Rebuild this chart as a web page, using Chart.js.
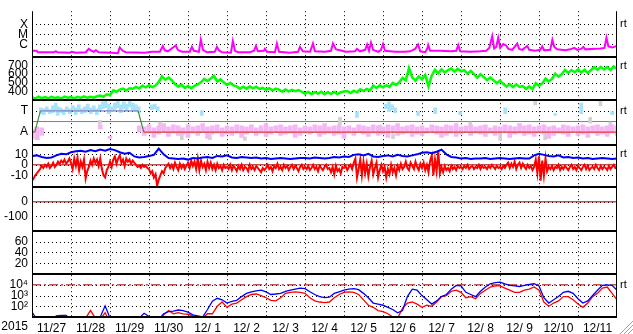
<!DOCTYPE html>
<html>
<head>
<meta charset="utf-8">
<script src="https://cdn.jsdelivr.net/npm/chart.js@4.4.1/dist/chart.umd.min.js"></script>
<style>
html, body { margin: 0; padding: 0; background: #fff; }
#wrap { width: 633px; height: 334px; }
</style>
</head>
<body>
<div id="wrap"><canvas id="swChart" width="633" height="334"></canvas></div>
<script>
// time axis is days since 2015-11-27 00:00 UT
const yearLabel = '2015';
const dayLabels = ['11/27', '11/28', '11/29', '11/30', '12/ 1', '12/ 2', '12/ 3', '12/ 4',
  '12/ 5', '12/ 6', '12/ 7', '12/ 8', '12/ 9', '12/10', '12/11'];

// X-ray flux: hour, flux in units of 1e-7 W/m2
const xrayHour = [0.4, 2.9, 3.5, 13.4, 14.6, 15.8, 23.2, 24.5, 26.9, 33.1, 34.9, 36.2, 38.0, 39.3, 41.1,
  49.1, 52.8, 54.0, 55.8, 57.7, 69.4, 73.7, 78.7, 80.5, 81.7, 83.6, 88.5, 89.7, 92.2, 97.1, 98.4, 99.6,
  102.7, 103.9, 105.2, 107.6, 112.5, 113.8, 115.0, 116.9, 122.4, 123.6, 124.9, 126.7, 134.1, 136.6,
  137.8, 139.0, 142.7, 143.3, 144.6, 149.5, 150.7, 152.0, 158.7, 163.7, 164.9, 166.7, 171.1, 172.9,
  174.1, 180.3, 184.0, 185.2, 187.1, 189.5, 193.2, 198.8, 200.0, 201.9, 205.0, 206.2, 207.4, 208.6,
  209.9, 213.0, 214.8, 216.0, 217.3, 223.4, 229.6, 232.7, 235.8, 237.6, 238.9, 242.0, 243.2, 243.8,
  245.0, 251.2, 257.4, 261.1, 262.3, 263.5, 269.7, 275.8, 279.5, 281.4, 283.2, 284.4, 285.7, 286.9,
  288.1, 290.0, 291.8, 293.1, 295.5, 298.6, 299.8, 301.7, 304.7, 306.0, 309.7, 312.8, 314.0, 315.2,
  318.9, 320.2, 321.4, 323.2, 328.2, 331.2, 333.7, 335.6, 338.0, 339.3, 340.5, 346.7, 349.8, 352.3,
  353.5, 354.7, 357.1, 360];
const xrayFlux = [2.24, 2.24, 1.6, 1.6, 2.0, 1.6, 1.43, 1.79, 1.43, 1.6, 3.5, 2.5, 1.79, 2.5, 1.6,
  1.43, 1.28, 4.89, 2.24, 1.6, 1.43, 1.79, 1.79, 6.84, 2.5, 2.0, 7.65, 2.8, 1.79, 1.79, 5.47, 2.24,
  1.79, 29.2, 2.8, 1.6, 1.79, 5.47, 2.5, 1.6, 1.43, 21, 2.24, 1.6, 1.6, 2.24,
  6.84, 2.0, 2.24, 3.5, 1.79, 1.6, 12, 1.79, 1.43, 1.79, 5.47, 2.0, 1.79, 12,
  2.0, 1.79, 2.24, 12, 3.13, 2.5, 1.79, 2.0, 3.5, 2.0, 2.8, 9.56, 2.24, 15,
  2.8, 1.79, 2.8, 10.7, 2.24, 1.79, 1.79, 2.0, 3.5, 9.56, 2.0, 1.6, 3.5, 8.55,
  2.24, 2.24, 2.0, 2.24, 8.55, 2.0, 1.79, 2.0, 2.24, 4.37, 64, 3.9, 5.47, 45.7,
  4.37, 10.7, 7.65, 3.5, 2.8, 12, 3.5, 2.8, 6.84, 2.8, 2.24, 2.8, 6.1, 2.5,
  2.8, 29.2, 5.47, 3.13, 2.5, 3.13, 4.37, 2.8, 3.5, 5.47, 3.13, 3.5, 3.9, 4.37,
  45.7, 6.1, 4.89, 6.84];

// solar wind speed (km/s), one value every 2 hours
const speedStep = 2;
const speed = [330, 318, 338, 322, 334, 320, 336, 324, 332, 318, 340, 326, 334, 320, 338, 324, 342, 326, 338, 328, 344,
  352, 338, 366, 356, 412, 396, 420, 432, 410, 436, 430, 452, 436, 466, 448, 472, 450, 468, 510,
  575, 535, 560, 530, 485, 455, 478, 440, 462, 438, 465, 480, 505, 545, 520, 550, 580, 515, 540,
  505, 475, 500, 470, 458, 430, 455, 432, 458, 436, 454, 428, 440, 418, 438, 412, 432,
  420, 398, 422, 400, 418, 402, 414, 396, 372, 394, 370, 392, 374, 396, 368, 392, 372, 394, 370, 390, 398,
  405, 382, 408, 390, 425, 405, 430, 412, 468, 440, 470, 448, 472, 452, 498, 475, 505, 555, 530, 670,
  560, 525, 575, 540, 590, 460, 585, 650, 610, 655, 620, 648, 665, 630, 662, 635, 645, 605, 638,
  600, 560, 598, 565, 530, 560, 530, 495, 525, 488, 455, 485, 450, 482, 452, 462, 430, 458, 428,
  495, 465, 492, 548, 515, 545, 605, 570, 600, 650, 615, 648, 622, 655, 618, 650, 612, 648,
  680, 650, 685, 655, 682, 648, 688, 660];

// IMF sector: 1 = toward (T), -1 = away (A)
const sectorHour = [0, 1.7, 5.2, 65.3, 68.8, 360];
const sector = [-1, -1, 1, 1, -1, -1];
const sectorMid = 0;

// hourly IMF direction streaks (toward side), hour / low / high
const towardHour = [5.4, 7.2, 9.1, 10.9, 12.8, 14.6, 15.8, 17.7, 19.5, 21.4, 23.2, 25.1, 26.9, 28.8, 30.6,
  32.5, 34.3, 36.2, 38.0, 39.9, 41.7, 43.6, 45.4, 47.2, 49.1, 50.9, 52.8, 54.6, 56.5, 58.3, 60.2, 62.0,
  63.9, 65.7, 73.7, 75.6, 77.4, 104.5, 200.0, 217.9, 219.7, 221.6, 223.4, 237.6, 248.1, 263.5, 291.2,
  322.0, 338.0, 357.1];
const towardLo = [0.75, 0.66, 0.94, 0.75, 0.85, 1.03, 0.57, 0.85, 0.66, 0.94, 0.75, 1.03, 0.66, 0.94, 0.75,
  0.85, 1.03, 0.75, 0.94, 0.66, 1.03, 1.21, 1.3, 0.75, 0.94, 1.12, 1.3, 0.85, 1.21, 1.03, 1.39, 1.12,
  0.94, 0.85, 1.12, 1.21, 1.03, 0.57, 0.39, 1.21, 0.94, 1.12, 0.85, 0.57, 0.75, 0.66, 0.75,
  0.57, 0.75, 0.66];
const towardHi = [1.3, 1.21, 1.39, 1.12, 1.48, 1.75, 1.39, 1.3, 1.12, 1.39, 1.21, 1.48, 1.3, 1.57, 1.21,
  1.39, 1.66, 1.3, 1.48, 1.21, 1.57, 1.85, 1.94, 1.66, 1.39, 1.75, 1.94, 1.57, 1.85, 1.66, 1.94, 1.75,
  1.57, 1.39, 1.57, 1.66, 1.39, 1.03, 0.94, 1.66, 1.85, 1.57, 1.3, 0.94, 1.3, 0.94, 1.3,
  0.75, 1.75, 0.94];

// away side streaks every 3 hours (null = none)
const awayStep = 3;
const awayLo = [-1.6, -1.7, -1.3, null, null, null, null, null, null, null, null, null, null, null,
  -0.7, null, -1.6, null, null, null, null, null,
  -1.0, -1.3, -1.1, -1.5, -1.2, -1.0, -1.4, -1.1, -1.3, -1.2,
  -1.5, -1.1, -1.3, -1.0, -1.6, -1.2, -1.1, -1.4, -1.2, -1.3,
  -1.1, -1.5, -1.2, -1.0, -1.3, -1.1, -1.4, -1.2, -1.0, -1.3,
  -1.2, -1.1, -1.5, -1.3, -1.1, -1.2, -1.0, -1.4, -1.2, -1.1,
  -1.3, -1.2, -1.6, -1.1, -1.3, -1.0, -1.2, -1.4, -1.1, -1.3,
  -1.2, -1.5, -1.0, -1.3, -1.2, -1.1, -1.4, -1.2, -1.3, -1.1,
  -1.0, -1.2, -1.5, -1.3, -1.1, -1.4, -1.2, -1.0, -1.3, -1.1,
  -1.2, -1.4, -1.1, -1.3, -1.2, -1.0, -1.5, -1.2, -1.1, -1.3,
  -1.2, -1.4, -1.1, -1.2, -1.6, -1.3, -1.1, -1.2, -1.4, -1.0,
  -1.3, -1.2, -1.5, -1.1, -1.3, -1.2, -1.4, -1.1, -1.3];
const awayHi = [-0.7, -0.5, -0.6, null, null, null, null, null, null, null, null, null, null, null,
  -0.3, null, -1.4, null, null, null, null, null,
  -0.4, -0.5, -0.3, -0.6, -0.4, -0.2, -0.5, -0.3, -0.4, -0.6,
  -0.3, -0.5, -0.4, -0.2, -0.5, -0.4, -0.3, -0.6, -0.4, -0.5,
  -0.3, -0.4, -0.5, -0.3, -0.6, -0.4, -0.2, -0.5, -0.4, -0.3,
  -0.5, -0.4, -0.3, -0.6, -0.4, -0.5, -0.3, -0.4, -0.2, -0.5,
  -0.4, -0.3, -0.5, -0.4, -0.6, -0.3, -0.4, -0.5, -0.3, -0.4,
  -0.5, -0.3, -0.4, -0.2, -0.5, -0.4, -0.3, -0.5, -0.4, -0.6,
  -0.3, -0.4, -0.5, -0.3, -0.4, -0.2, -0.5, -0.4, -0.3, -0.5,
  -0.4, -0.3, -0.6, -0.4, -0.5, -0.3, -0.4, -0.5, -0.2, -0.4,
  -0.3, -0.5, -0.4, -0.3, -0.5, -0.4, -0.6, -0.3, -0.4, -0.5,
  -0.4, -0.3, -0.5, -0.4, -0.3, -0.5, -0.4, -0.3, -0.4];

// streaks with no clear sector
const grayHour = [3.5, 41.7, 78.7, 92.2, 109.5, 131.0, 189.5, 214.1, 222.2, 269.7, 288.1, 309.7, 315.8, 343.5, 349.8, 355.9];
const grayLo = [-1.7, -0.25, -0.7, -1.7, -1.7, -1.79, -0.34, -0.88, -1.61, -0.52, -1.79, 1.57, -1.7, -0.15, 1.48, -0.97];
const grayHi = [-0.88, 0.12, -0.06, -0.79, -1.25, -1.43, 0.39, -0.34, -1.15, -0.06, -1.15, 2.0, -0.97, 0.39, 2.0, -0.06];

// IMF |B| (nT) every 3 hours
const btStep = 3;
const bt = [8.5, 9, 7.5, 6.5, 7, 9, 10.5, 10, 12, 13, 13.5, 12.5, 14, 13, 14.5, 13.5, 15, 14, 12, 10.5, 11.5,
  8, 7, 7.5, 8.5, 9.5, 15.5, 10, 6.5, 6, 5.5, 6, 5, 6.5, 6, 7, 7.5, 6.5, 8.5, 8, 9,
  7, 6.5, 7.5, 7, 6.5, 7, 6, 6.5, 5.5, 6, 6.5, 6, 5.5, 6, 6.5, 6.5, 6, 7, 6.5, 6, 6.5,
  7.5, 7, 8, 7.5, 9.5, 10, 9, 10.5, 8, 7.5, 8.5, 9, 8, 9.5, 8.5, 8, 9, 10, 11.5,
  12, 11, 12.5, 14.5, 10, 7.5, 7, 6, 6.5, 5.5, 6, 6, 6.5, 5.5, 6, 6.5, 6, 5.5, 6, 6.5, 6, 6,
  9, 10.5, 9.5, 8.5, 8, 9, 7, 7.5, 6.5, 7, 6, 6.5, 5.5, 6, 6.5, 6, 5.5, 6];

// IMF Bz (nT) hourly, one row per day
const bzStep = 1;
const bz = [
  -15, -13, -10, -8, -6, -4, -1, -3, 0, -2, 1, -3, -1, 2, -2, 0, 3, 1, 4, 2, 5, 1, 3, 6,
  2, -4, 6, -1, 7, -5, 3, -2, 5, -13, -6, -2, 4, 0, 6, 2, 5, -1, 6, -4, -10, -12, -5, -2,
  3, -2, 5, 8, 1, 6, 9, 2, 5, -1, 6, 3, 5, 1, 4, 2, 0, -2, -1, -3, 0, -2, -1, -3,
  -4, -8, -6, -12, -9, -20, -14, -10, -6, -8, -3, -1, 1, -3, 0, -4, 2, -2, -5, 1, -3, 0, -4, -1,
  2, -3, 4, -1, 3, -4, 6, -5, 4, -2, 1, -5, 3, -3, 2, -4, 0, -5, 1, -3, -1, -5, 0, -3,
  -2, -4, 0, -5, -1, -3, -6, -1, -4, 0, -5, -2, -3, -6, 0, -4, -2, -5, -1, -3, -5, -7, -3, -5,
  -3, 0, -4, -2, -6, -1, -3, 1, -4, -2, -5, 0, -3, -1, -5, -2, 0, -4, -1, -3, -6, -2, 0, -4,
  -2, -4, -1, -5, -3, 0, -4, -2, -6, -1, -3, -5, -2, 0, -4, -3, -7, -2, -9, -1, -6, -4, -8, -2,
  -3, -1, -5, -2, 0, -4, 2, 6, -12, -4, 5, -10, 3, -8, 1, -11, -2, 4, -9, -3, 2, -12, -5, 0,
  -6, -2, -12, -4, -9, 0, -7, -3, -10, -1, -5, 1, -4, -2, 3, -3, -5, 2, -1, -4, 3, -2, -5, 1,
  -3, 2, -5, 0, -7, 4, 9, -10, 5, -6, 13, -8, -2, -7, -1, -5, -3, -6, -1, -4, -2, -5, -1, -3,
  -2, -4, -1, -3, 0, -4, -2, -1, -4, -2, -3, 0, -4, -1, -3, -2, -4, -1, -3, 0, -2, -4, -1, -3,
  -2, -4, -1, -3, 0, 2, -3, 1, -2, 3, -4, 0, 2, -3, 1, -2, -4, 0, -3, -1, -5, -2, 5, -8,
  8, -15, 4, -10, 6, -6, -2, -4, -1, -5, -2, -3, 0, -5, -2, -4, -1, -3, -5, -2, 0, -4, -2, -5,
  -1, -3, -5, -2, 0, -4, -1, -5, -3, -2, -4, 0, -3, -5, -1, -4, -2, -3, -5, -1, -4, -2, 0, -3,
  -2];
const bzZero = 0;
const dstZero = 0;

// electron flux every 3 hours, two channels
const elecStep = 3;
const elecBlue = [28, 6, 5, 5, 5, 13, 14, 14, 6, 3, 3, 3, 3, 3, 10, 110, 8, 3, 3, 3,
  3, 3, 8, 22, 11, 4, 6, 20, 32, 35, 45, 40, 28, 16, 13, 10, 50, 300, 560, 400,
  200, 280, 355, 800, 1600, 2240, 2800, 3160, 2240, 1260, 1400, 1600, 2500, 3160, 4000, 5000, 4470, 2240, 1260, 800,
  630, 700, 1600, 2240, 3160, 4000, 4470, 3550, 1600, 630, 200, 160, 125, 80, 50, 25, 40, 800, 4000, 3160,
  1000, 400, 160, 320, 800, 1260, 4000, 8900, 8000, 2000, 1260, 800, 2500, 6300, 12600, 15800, 17800, 12600, 8900, 8000,
  7000, 8900, 11200, 12600, 8000, 630, 200, 400, 800, 2000, 2500, 1600, 500, 200, 320, 1000, 3160, 8900, 10000, 8900,
  3160];
const elecRed = [4, 3, 3, 3, 3, 12, 10, 3, 3, 3, 3, 8, 40, 8, 6, 25, 3, 3, 3, 3,
  3, 3, 3, 3, 3, 3, 3, 16, 40, 20, 25, 20, 18, 13, 10, 8, 20, 20, 100, 250,
  80, 160, 200, 400, 800, 1260, 1400, 1000, 630, 355, 320, 630, 1600, 2000, 2240, 2000, 1600, 630, 320, 250,
  220, 250, 630, 1260, 2000, 2240, 2000, 1260, 400, 125, 80, 40, 32, 20, 10, 8, 63, 200, 250, 160,
  80, 125, 100, 250, 800, 1000, 2500, 3160, 2000, 630, 800, 500, 1600, 3160, 6300, 8000, 8000, 5000, 3160, 2000,
  2000, 3160, 4000, 6300, 3160, 250, 100, 200, 320, 800, 800, 400, 160, 80, 200, 800, 1600, 5000, 6300, 1600,
  400];
const elecAlert = 1e4;

// tick values and labels per panel
const xrayTicks = [1e-6, 1e-5, 1e-4];
const xrayTickLabels = ['C', 'M', 'X'];
const speedTicks = [400, 500, 600, 700];
const sectorTicks = [-1, 1];
const sectorTickLabels = ['A', 'T'];
const bTicks = [-10, 0, 10];
const dstTicks = [-100, 0];
const p6Ticks = [20, 40, 60];
const elecTicks = [1e2, 1e3, 1e4];
const elecTickLabels = ['10\u00b2', '10\u00b3', '10\u2074'];

const FONT = "'Liberation Sans Narrow', 'Liberation Sans', Arial, sans-serif";
Chart.defaults.font.family = FONT;
Chart.defaults.font.size = 12;
Chart.defaults.color = '#000';

const pairs = (hours, vals) => hours.map((h, i) => ({x: h / 24, y: vals[i]}));
const streaks = (hours, lo, hi) => hours.map((h, i) => ({x: h / 24, y: [lo[i], hi[i]]}))
  .filter(p => p.y[0] !== null);
const stepHours = (step, vals) => vals.map((v, i) => i * step);

function line(axis, data, color, width, order) {
  return {type: 'line', yAxisID: axis, data: data, borderColor: color, borderWidth: width,
    pointRadius: 0, tension: 0, clip: 0, order: order};
}
function ref(axis, v, color, dash) {
  return {type: 'line', yAxisID: axis, data: [{x: 0, y: v}, {x: 15, y: v}], borderColor: color,
    borderWidth: 1, borderDash: dash || [], pointRadius: 0, clip: 0, order: 20};
}
function streak(data, color, thick) {
  return {type: 'bar', yAxisID: 'yS', data: data, backgroundColor: color, borderWidth: 0,
    barThickness: thick, grouped: false, clip: 0, order: 10};
}

function panel(type, min, max, weight, h, ticks, labels) {
  return {
    type: type, position: 'left', stack: 'sw', stackWeight: h, weight: weight,
    min: min, max: max, bounds: 'data',
    afterBuildTicks: s => { s.ticks = ticks.map(v => ({value: v})); },
    afterFit: s => { s.width = 32; },
    grid: {display: false, drawTicks: false},
    border: {display: false},
    ticks: {padding: 4, color: '#000', autoSkip: false,
      callback: (v, i) => labels ? labels[i] : String(v)}
  };
}

const panelIds = ['yX', 'yV', 'yS', 'yB', 'yD', 'yK', 'yE'];
const dayTicks = [];
dayLabels.forEach((l, i) => { dayTicks.push(i, i + 0.5); });
dayTicks.push(dayLabels.length);

const framePlugin = {
  id: 'frame',
  beforeDatasetsDraw(chart) {
    // dotted grid from the scales' own tick positions
    const {ctx, chartArea: a, scales} = chart;
    ctx.save();
    ctx.strokeStyle = '#000';
    ctx.lineWidth = 1;
    ctx.setLineDash([1, 3]);
    ctx.beginPath();
    panelIds.forEach(id => {
      const s = scales[id];
      s.ticks.forEach(t => {
        const y = Math.round(s.getPixelForValue(t.value)) + 0.5;
        ctx.moveTo(a.left, y);
        ctx.lineTo(a.right, y);
      });
    });
    scales.x.ticks.forEach(t => {
      if (Number.isInteger(t.value) && t.value > 0 && t.value < dayLabels.length) {
        const x = Math.round(scales.x.getPixelForValue(t.value)) + 0.5;
        ctx.moveTo(x, a.top);
        ctx.lineTo(x, a.bottom);
      }
    });
    ctx.stroke();
    ctx.restore();
  },
  afterDatasetsDraw(chart) {
    const {ctx, chartArea: a, scales} = chart;
    ctx.save();
    ctx.strokeStyle = '#000';
    ctx.lineWidth = 1;
    ctx.beginPath();
    ctx.moveTo(Math.round(a.left) + 0.5, a.top);
    ctx.lineTo(Math.round(a.left) + 0.5, a.bottom);
    ctx.moveTo(Math.round(a.right) - 0.5, a.top);
    ctx.lineTo(Math.round(a.right) - 0.5, a.bottom);
    ctx.stroke();
    ctx.lineWidth = 2;
    ctx.beginPath();
    panelIds.slice(1).forEach(id => {
      const y = Math.round(scales[id].top);
      ctx.moveTo(a.left, y);
      ctx.lineTo(a.right, y);
    });
    ctx.moveTo(a.left, Math.round(a.bottom));
    ctx.lineTo(a.right, Math.round(a.bottom));
    ctx.stroke();
    ctx.restore();
  },
  afterDraw(chart) {
    const {ctx, chartArea: a, scales} = chart;
    ctx.save();
    ctx.fillStyle = '#000';
    ctx.font = '12px ' + FONT;
    ctx.textAlign = 'right';
    ctx.textBaseline = 'middle';
    ctx.fillText(yearLabel, a.left - 4, scales.x.top + 10);
    // realtime marks at the top tick of some panels
    ctx.textAlign = 'left';
    ctx.font = '11px ' + FONT;
    [['yX', xrayTicks], ['yV', speedTicks], ['yS', sectorTicks], ['yB', bTicks], ['yE', elecTicks]].forEach(([id, t]) => {
      const y = scales[id].getPixelForValue(Math.max(...t));
      ctx.fillText('rt', a.right + 3, y);
    });
    // window resize grip
    ctx.strokeStyle = '#a0a0a0';
    ctx.lineWidth = 1;
    ctx.beginPath();
    [0, 4, 8].forEach(d => {
      ctx.moveTo(633, 321 + d);
      ctx.lineTo(620 + d, 334);
    });
    ctx.stroke();
    ctx.restore();
  }
};

const ctx = document.getElementById('swChart').getContext('2d');
const swChart = new Chart(ctx, {
  type: 'line',
  data: {
    datasets: [
      line('yX', pairs(xrayHour, xrayFlux.map(v => v * 1e-7)), '#ff00ff', 2, 1),
      line('yV', pairs(stepHours(speedStep, speed), speed), '#00ff00', 2.5, 1),
      ref('yS', sectorMid, '#808080'),
      streak(streaks(stepHours(awayStep, awayLo), awayLo, awayHi), '#f6b6f3', 4),
      streak(streaks(towardHour, towardLo, towardHi), '#a6e2fa', 3),
      streak(streaks(grayHour, grayLo, grayHi), '#d2d2d2', 3),
      Object.assign(line('yS', pairs(sectorHour, sector), '#e03a3a', 1.2, 2), {
        segment: {borderColor: c => c.p0.parsed.y !== c.p1.parsed.y ? '#3f8a3f' : (c.p0.parsed.y > 0 ? '#7f88c4' : '#e03a3a')}
      }),
      ref('yB', bzZero, '#a00000'),
      line('yB', pairs(stepHours(bzStep, bz), bz), '#ff0000', 2, 2),
      line('yB', pairs(stepHours(btStep, bt), bt), '#0000ff', 2, 1),
      ref('yD', dstZero, '#a00000'),
      ref('yE', elecAlert, '#a00000', [9, 3, 2, 3]),
      line('yE', pairs(stepHours(elecStep, elecRed), elecRed), '#ff0000', 1.3, 2),
      line('yE', pairs(stepHours(elecStep, elecBlue), elecBlue), '#0000ff', 1.3, 1)
    ]
  },
  options: {
    responsive: false,
    animation: false,
    events: [],
    layout: {padding: {left: 0, right: 16, top: 0, bottom: 0}},
    plugins: {legend: {display: false}, tooltip: {enabled: false}},
    scales: {
      x: {
        type: 'linear', position: 'bottom', min: 0, max: dayLabels.length, offset: false, bounds: 'data',
        afterBuildTicks: s => { s.ticks = dayTicks.map(v => ({value: v})); },
        afterFit: s => { s.height = 17; },
        grid: {display: false, offset: false, drawTicks: false},
        border: {display: false},
        ticks: {autoSkip: false, maxRotation: 0, padding: 4, color: '#000',
          callback: v => Number.isInteger(v) ? '' : dayLabels[Math.floor(v)]}
      },
      yX: panel('logarithmic', Math.pow(10, -7.26), Math.pow(10, -2.67), 7, 47.3, xrayTicks, xrayTickLabels),
      yV: panel('linear', 300, 800, 6, 44.7, speedTicks),
      yS: panel('linear', -2.25, 2.03, 5, 47, sectorTicks, sectorTickLabels),
      yB: panel('linear', -21.5, 18.5, 4, 43.5, bTicks),
      yD: panel('linear', -200, 100, 3, 44.8, dstTicks),
      yK: panel('linear', 0, 80, 2, 45, p6Ticks),
      yE: panel('logarithmic', 10, 1e5, 1, 44.4, elecTicks, elecTickLabels)
    }
  },
  plugins: [framePlugin]
});
</script>
</body>
</html>
